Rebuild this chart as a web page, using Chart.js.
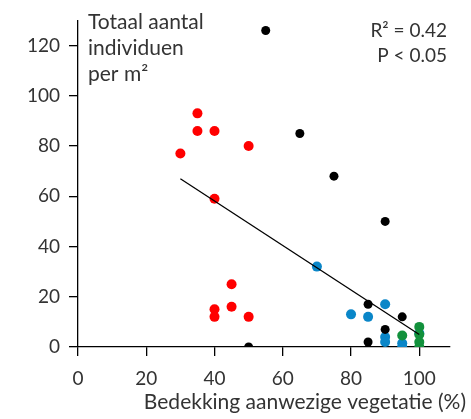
<!DOCTYPE html>
<html>
<head>
<meta charset="utf-8">
<script src="https://cdn.jsdelivr.net/npm/chart.js@4/dist/chart.umd.min.js"></script>
<style>
html,body{margin:0;padding:0;background:#fff;}
#wrap{width:471px;height:419px;position:relative;}
</style>
</head>
<body>
<div id="wrap"><canvas id="c" width="471" height="419"></canvas></div>
<script>
// Data
const xTickValues = [0, 20, 40, 60, 80, 100];
const yTickValues = [0, 20, 40, 60, 80, 100, 120];

const blackX = [55, 65, 75, 90, 50, 85, 95, 90, 85];
const blackY = [126, 85, 68, 50, 0, 17, 12, 7, 2];

const redX = [35, 35, 40, 50, 30, 40, 45, 45, 40, 40, 50];
const redY = [93, 86, 86, 80, 77, 59, 25, 16, 15, 12, 12];

const blueX = [70, 80, 85, 90, 90, 90, 95, 95, 100];
const blueY = [32, 13, 12, 17, 4, 2, 1.5, 0, 5.5];

const greenX = [95, 100, 100, 100, 100];
const greenY = [4.6, 8, 5, 2, 0];

const fitX = [30, 100];
const fitY = [67, 5];

const xTitle = 'Bedekking aanwezige vegetatie (%)';
const yTitleLines = ['Totaal aantal', 'individuen', 'per m²'];
const statLines = ['R² = 0.42', 'P < 0.05'];

const pts = (xs, ys) => xs.map((x, i) => ({x: x, y: ys[i]}));
const FONT = 'Lato, "Open Sans", sans-serif';
const TXT = '#333333';

const annot = {
  id: 'annot',
  afterDraw(chart) {
    const ctx = chart.ctx;
    ctx.save();
    ctx.fillStyle = TXT;
    ctx.textBaseline = 'alphabetic';
    ctx.font = '21px ' + FONT;
    ctx.textAlign = 'left';
    yTitleLines.forEach((t, i) => ctx.fillText(t, 88, 29 + i * 26));
    ctx.font = '19px ' + FONT;
    ctx.textAlign = 'right';
    statLines.forEach((t, i) => ctx.fillText(t, 447, 37 + i * 25));
    ctx.font = '21px ' + FONT;
    ctx.fillText(xTitle, 466, 409);
    ctx.restore();
  }
};

const scatterDs = (label, xs, ys, color, r) => ({
  type: 'scatter', label: label, data: pts(xs, ys),
  backgroundColor: color, borderColor: color, borderWidth: 0,
  pointRadius: r, pointHoverRadius: r
});

new Chart(document.getElementById('c'), {
  type: 'scatter',
  data: {
    datasets: [
      {type: 'line', label: 'fit', data: pts(fitX, fitY), borderColor: '#000', borderWidth: 1.3,
       pointRadius: 0, fill: false, tension: 0},
      scatterDs('green', greenX, greenY, '#12913c', 5),
      scatterDs('black', blackX, blackY, '#000000', 4.5),
      scatterDs('blue', blueX, blueY, '#0a86c8', 5),
      scatterDs('red', redX, redY, '#ff0000', 5)
    ]
  },
  options: {
    responsive: false,
    animation: false,
    events: [],
    layout: {padding: {top: 12, right: 21, left: 0, bottom: 0}},
    plugins: {legend: {display: false}, tooltip: {enabled: false}},
    scales: {
      x: {
        type: 'linear', min: 0, max: 109,
        afterBuildTicks: s => { s.ticks = xTickValues.map(v => ({value: v})); },
        afterFit: s => { s.height = 72; },
        grid: {display: true, drawOnChartArea: false, drawTicks: true, tickLength: 9, color: '#000', lineWidth: 1.3},
        border: {display: true, color: '#000', width: 1.3},
        ticks: {color: TXT, font: {size: 19, family: FONT}, padding: 11, maxRotation: 0}
      },
      y: {
        type: 'linear', min: 0, max: 130,
        afterBuildTicks: s => { s.ticks = yTickValues.map(v => ({value: v})); },
        afterFit: s => { s.width = 78; },
        grid: {display: true, drawOnChartArea: false, drawTicks: true, tickLength: 9, color: '#000', lineWidth: 1.3},
        border: {display: true, color: '#000', width: 1.3},
        ticks: {color: TXT, font: {size: 19, family: FONT}, padding: 9}
      }
    }
  },
  plugins: [annot]
});
</script>
</body>
</html>
